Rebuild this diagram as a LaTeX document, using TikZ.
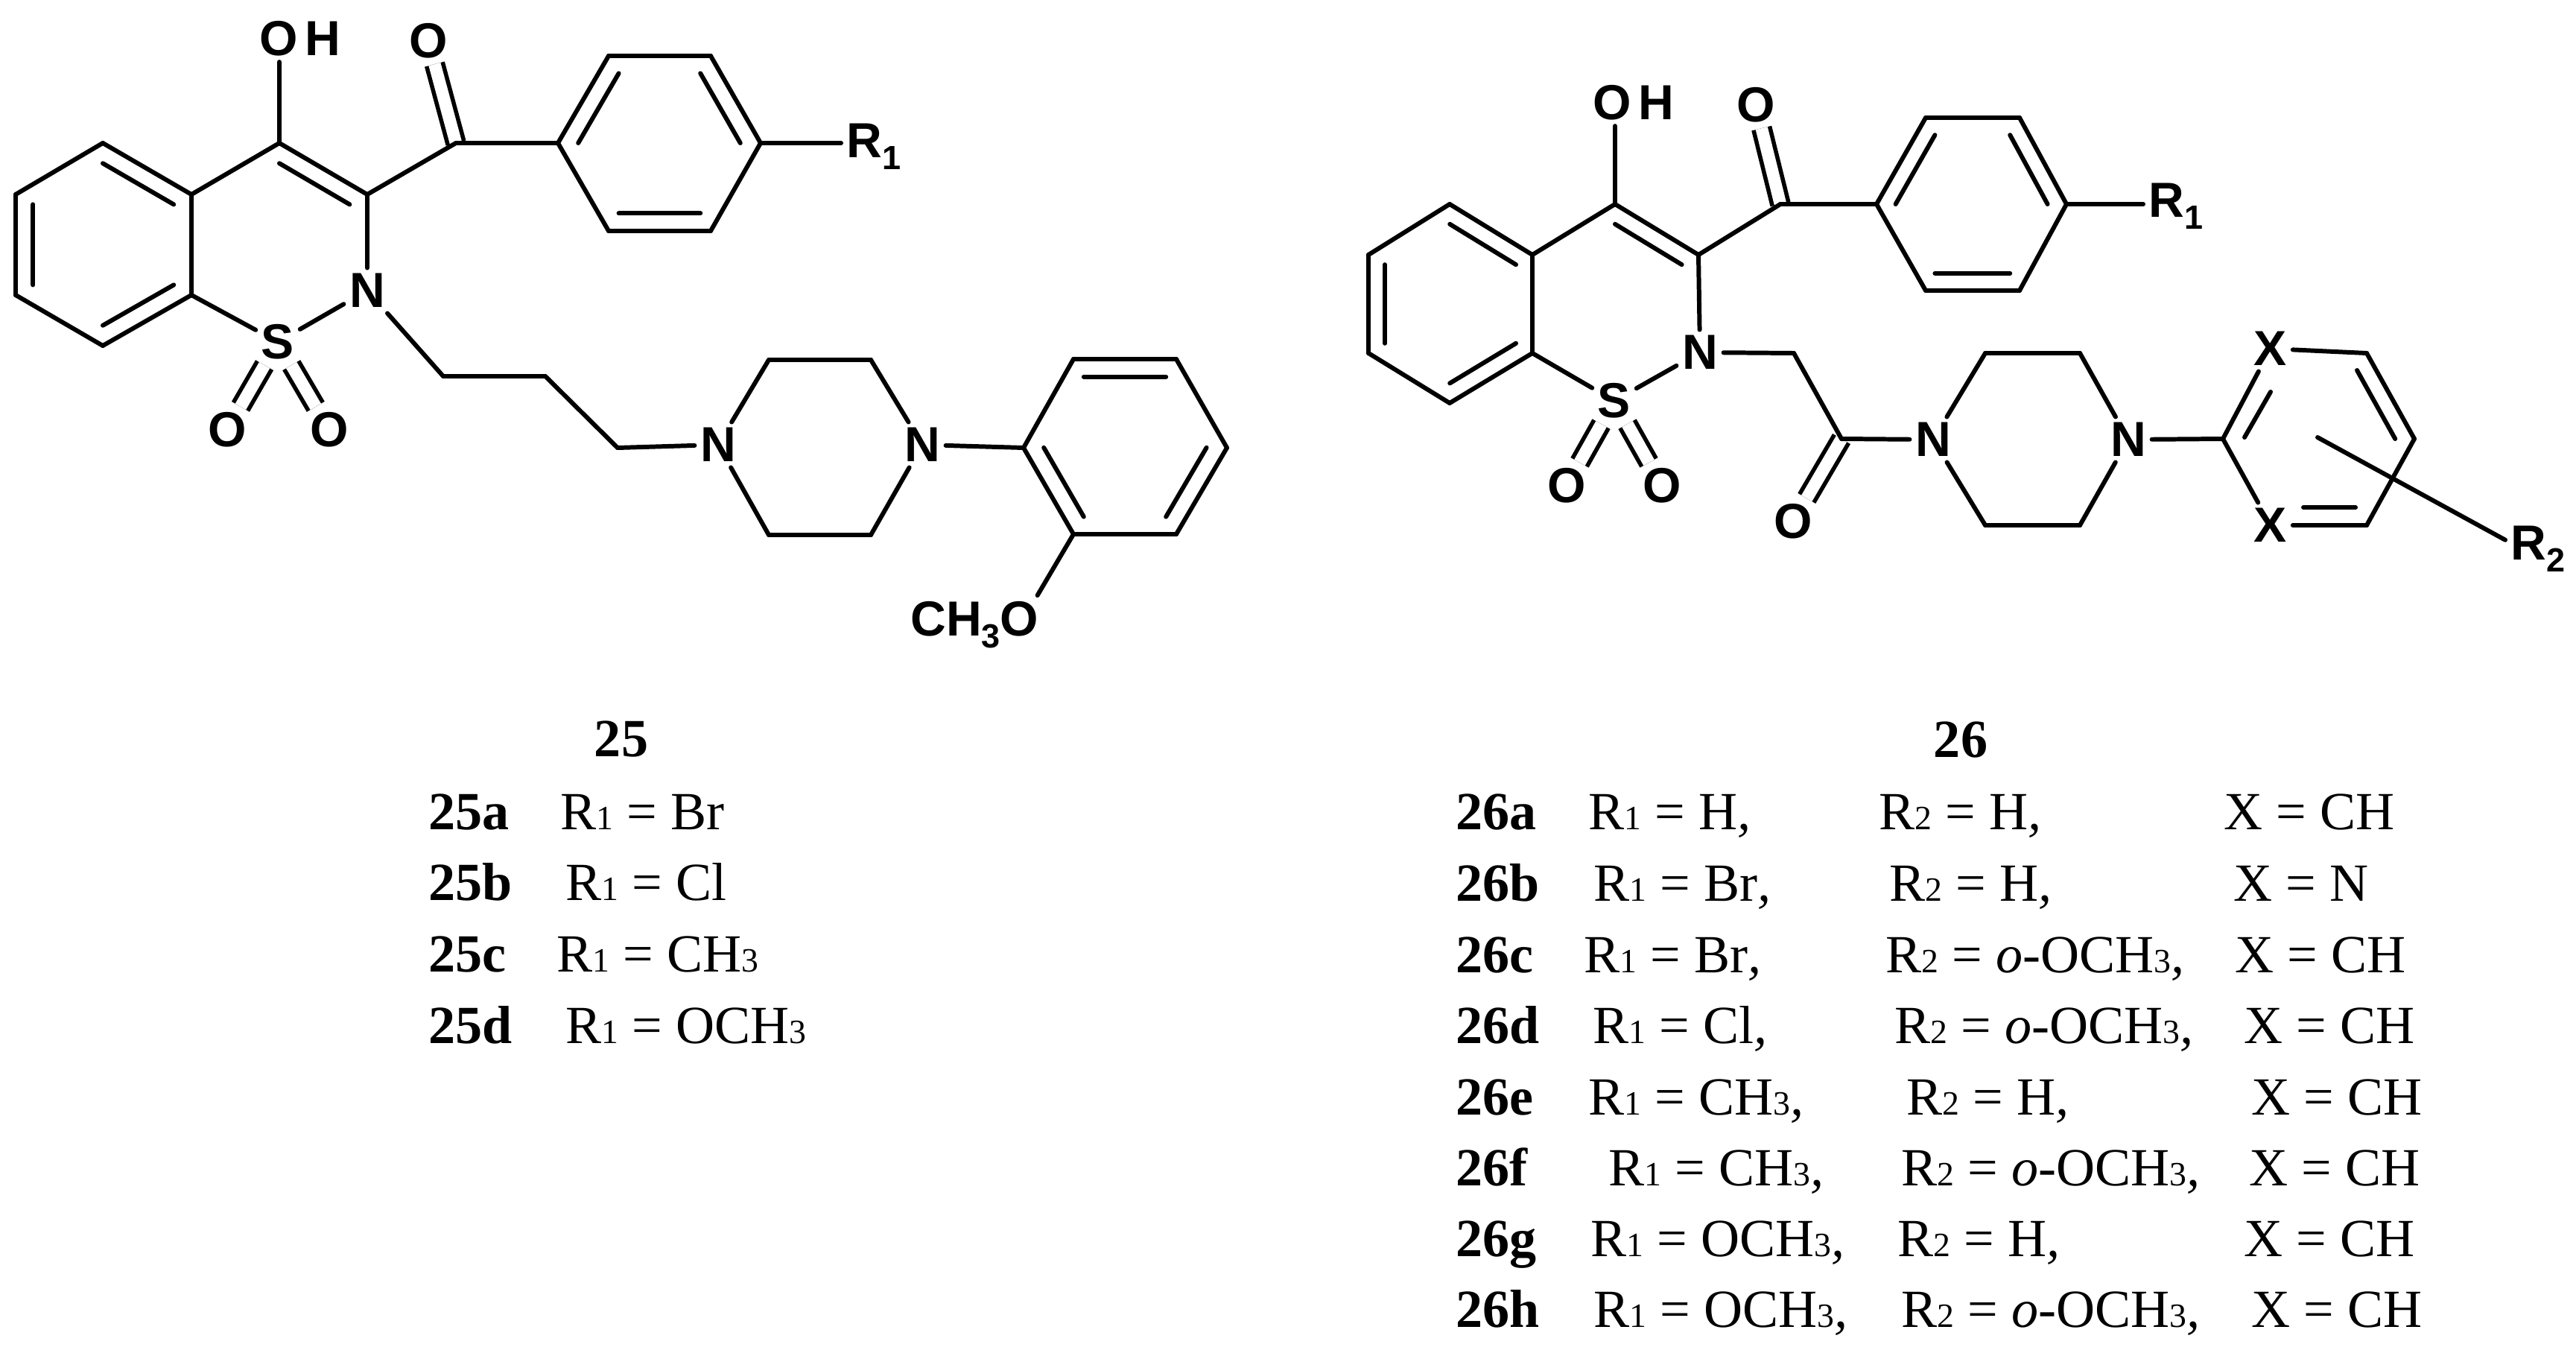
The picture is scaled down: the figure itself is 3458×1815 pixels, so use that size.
\documentclass[tikz,border=0pt]{standalone}
\usepackage{fontspec}
\setmainfont{Liberation Serif}
\newfontfamily\atomfont{Liberation Sans}
\usetikzlibrary{positioning, calc}
\newcommand{\bsub}[1]{\raisebox{-0.16cm}{\fontsize{12.8}{13}\selectfont #1}}
\newcommand{\tsub}[1]{{\fontsize{13}{14}\selectfont #1}}
\tikzset{
  bond/.style={line width=1.7pt, line cap=round},
  dbond/.style={line width=1.6pt, double, double distance=0.165cm},
  atom/.style={font=\atomfont\bfseries\fontsize{18.8}{20}\selectfont, inner sep=2pt},
  rlabel/.style={atom, anchor=base west},
  tlab/.style={anchor=base west, inner sep=0pt, font=\fontsize{20.5}{24}\selectfont},
  tname/.style={tlab, font=\fontsize{20.5}{24}\selectfont\bfseries},
  ttitle/.style={anchor=base, inner sep=0pt, font=\fontsize{20.5}{24}\selectfont\bfseries}
}
\begin{document}
\begin{tikzpicture}[x=0.01cm, y=-0.01cm]
  \useasboundingbox (0,0) rectangle (3458,1815);

  % compound 25, atoms
  \coordinate (a1) at (138,192);
  \coordinate (a2) at (257,261);
  \coordinate (a3) at (257,396);
  \coordinate (a4) at (138,464);
  \coordinate (a5) at (21,396);
  \coordinate (a6) at (21,261);
  \coordinate (ca) at (138,328);
  \coordinate (c4) at (375,192);
  \coordinate (c3) at (493,261);
  \coordinate (cb) at (375,328);
  \coordinate (co) at (612,192);
  \coordinate (p1) at (749,192);
  \coordinate (p2) at (817,75);
  \coordinate (p3) at (954,75);
  \coordinate (p4) at (1021,192);
  \coordinate (p5) at (954,310);
  \coordinate (p6) at (817,310);
  \coordinate (pc) at (885,192);
  \coordinate (ch1) at (595,505);
  \coordinate (ch2) at (732,505);
  \coordinate (ch3) at (829,601);
  \coordinate (z1) at (1032,483);
  \coordinate (z2) at (1169,483);
  \coordinate (z3) at (1169,718);
  \coordinate (z4) at (1032,718);
  \coordinate (r1) at (1374,601);
  \coordinate (r2) at (1441,482);
  \coordinate (r3) at (1579,482);
  \coordinate (r4) at (1647,601);
  \coordinate (r5) at (1579,717);
  \coordinate (r6) at (1441,717);
  \coordinate (rc) at (1510,600);
  \node (oh) [atom] at (403,52) {O\kern0.09cm H};
  \node (ok) [atom] at (575,55) {O};
  \node (n) [atom] at (493,390) {N};
  \node (s) [atom] at (373,459) {S};
  \node (os1) [atom] at (305,577) {O};
  \node (os2) [atom] at (442,577) {O};
  \node (nz1) [atom] at (964,597) {N};
  \node (nz2) [atom] at (1238,597) {N};
  \node (rr) [rlabel] at (1129,211) {R\bsub{1}};
  \node (ome) [atom, anchor=base east] at (1402,853) {CH\bsub{3}O};

  % compound 25, bonds
  \draw [dbond] (co) -- (ok);
  \draw [dbond] (s) -- (os1);
  \draw [dbond] (s) -- (os2);
  \path [bond]
  (a1) edge (a2) (a2) edge (a3) (a3) edge (a4)
  (a4) edge (a5) (a5) edge (a6) (a6) edge (a1)
  (a2) edge (c4) (c4) edge (c3) (c3) edge (n)
  (n) edge (s) (s) edge (a3)
  (c4) edge (c4 |- oh.south)
  (c3) edge (co) (co) edge (p1)
  (p1) edge (p2) (p2) edge (p3) (p3) edge (p4)
  (p4) edge (p5) (p5) edge (p6) (p6) edge (p1)
  (p4) edge (p4 -| rr.west)
  (n) edge (ch1) (ch1) edge (ch2) (ch2) edge (ch3) (ch3) edge (nz1)
  (nz1) edge (z1) (z1) edge (z2) (z2) edge (nz2)
  (nz2) edge (z3) (z3) edge (z4) (z4) edge (nz1)
  (nz2) edge (r1)
  (r1) edge (r2) (r2) edge (r3) (r3) edge (r4)
  (r4) edge (r5) (r5) edge (r6) (r6) edge (r1)
  (r6) edge ($(ome.north east)!0.05!(ome.north west)$);
  % inner ring lines
  \draw [bond] ($(a1)!0.2!(ca)$) -- ($(a2)!0.2!(ca)$);
  \draw [bond] ($(a3)!0.2!(ca)$) -- ($(a4)!0.2!(ca)$);
  \draw [bond] ($(a5)!0.2!(ca)$) -- ($(a6)!0.2!(ca)$);
  \draw [bond] ($(c4)!0.2!(cb)$) -- ($(c3)!0.2!(cb)$);
  \draw [bond] ($(p1)!0.2!(pc)$) -- ($(p2)!0.2!(pc)$);
  \draw [bond] ($(p3)!0.2!(pc)$) -- ($(p4)!0.2!(pc)$);
  \draw [bond] ($(p5)!0.2!(pc)$) -- ($(p6)!0.2!(pc)$);
  \draw [bond] ($(r1)!0.2!(rc)$) -- ($(r6)!0.2!(rc)$);
  \draw [bond] ($(r2)!0.2!(rc)$) -- ($(r3)!0.2!(rc)$);
  \draw [bond] ($(r4)!0.2!(rc)$) -- ($(r5)!0.2!(rc)$);

  % compound 26, atoms
  \coordinate (b1) at (1946,274);
  \coordinate (b2) at (2057,342);
  \coordinate (b3) at (2057,474);
  \coordinate (b4) at (1946,541);
  \coordinate (b5) at (1837,474);
  \coordinate (b6) at (1837,342);
  \coordinate (cc) at (1947,408);
  \coordinate (d4) at (2168,274);
  \coordinate (d3) at (2280,342);
  \coordinate (cd) at (2168,408);
  \coordinate (dco) at (2390,274);
  \coordinate (q1) at (2519,274);
  \coordinate (q2) at (2585,158);
  \coordinate (q3) at (2711,158);
  \coordinate (q4) at (2774,274);
  \coordinate (q5) at (2711,390);
  \coordinate (q6) at (2585,390);
  \coordinate (qc) at (2647,274);
  \coordinate (ach) at (2408,474);
  \coordinate (aco) at (2472,589);
  \coordinate (y1) at (2665,474);
  \coordinate (y2) at (2792,474);
  \coordinate (y3) at (2792,705);
  \coordinate (y4) at (2665,705);
  \coordinate (w1) at (2984,589);
  \coordinate (w3) at (3177,474);
  \coordinate (w4) at (3241,589);
  \coordinate (w5) at (3177,705);
  \coordinate (wc) at (3112,589);
  \coordinate (wa) at (3048,526);
  \coordinate (wb) at (3013,587);
  \coordinate (wd) at (3092,681);
  \coordinate (we) at (3162,681);
  \coordinate (rs) at (3111,587);
  \node (dh) [atom] at (2193,138) {O\kern0.09cm H};
  \node (dk) [atom] at (2357,141) {O};
  \node (dn) [atom] at (2282,473) {N};
  \node (ds) [atom] at (2167,538) {S};
  \node (ds1) [atom] at (2103,652) {O};
  \node (ds2) [atom] at (2231,652) {O};
  \node (da) [atom] at (2407,700) {O};
  \node (ny1) [atom] at (2595,590) {N};
  \node (ny2) [atom] at (2857,590) {N};
  \node (x1) [atom] at (3048,468) {X};
  \node (x2) [atom] at (3048,705) {X};
  \node (ds3) [rlabel] at (2877,291) {R\bsub{1}};
  \node (dr2) [rlabel] at (3363,751) {R\bsub{2}};

  % compound 26, bonds
  \draw [dbond] (dco) -- (dk);
  \draw [dbond] (ds) -- (ds1);
  \draw [dbond] (ds) -- (ds2);
  \draw [dbond] (aco) -- (da);
  \path [bond]
  (b1) edge (b2) (b2) edge (b3) (b3) edge (b4)
  (b4) edge (b5) (b5) edge (b6) (b6) edge (b1)
  (b2) edge (d4) (d4) edge (d3) (d3) edge (dn)
  (dn) edge (ds) (ds) edge (b3)
  (d4) edge (d4 |- dh.south)
  (d3) edge (dco) (dco) edge (q1)
  (q1) edge (q2) (q2) edge (q3) (q3) edge (q4)
  (q4) edge (q5) (q5) edge (q6) (q6) edge (q1)
  (q4) edge (q4 -| ds3.west)
  (dn) edge (ach) (ach) edge (aco) (aco) edge (ny1)
  (ny1) edge (y1) (y1) edge (y2) (y2) edge (ny2)
  (ny2) edge (y3) (y3) edge (y4) (y4) edge (ny1)
  (ny2) edge (w1)
  (w1) edge (x1) (x1) edge (w3) (w3) edge (w4)
  (w4) edge (w5) (w5) edge (x2) (x2) edge (w1)
  (rs) edge ($(dr2.north west)!0.7!(dr2.west)$);
  % inner ring lines
  \draw [bond] ($(b1)!0.2!(cc)$) -- ($(b2)!0.2!(cc)$);
  \draw [bond] ($(b3)!0.2!(cc)$) -- ($(b4)!0.2!(cc)$);
  \draw [bond] ($(b5)!0.2!(cc)$) -- ($(b6)!0.2!(cc)$);
  \draw [bond] ($(d4)!0.2!(cd)$) -- ($(d3)!0.2!(cd)$);
  \draw [bond] ($(q1)!0.2!(qc)$) -- ($(q2)!0.2!(qc)$);
  \draw [bond] ($(q3)!0.2!(qc)$) -- ($(q4)!0.2!(qc)$);
  \draw [bond] ($(q5)!0.2!(qc)$) -- ($(q6)!0.2!(qc)$);
  \draw [bond] ($(w3)!0.2!(wc)$) -- ($(w4)!0.2!(wc)$);
  \draw [bond] (wa) -- (wb);
  \draw [bond] (wd) -- (we);

  % table 25
  \node (t25) [ttitle] at (834,1015) {25};
  \node (t25a) [tname] at (575,1113) {25a};
  \node (t25b) [tname] at (575,1208) {25b};
  \node (t25c) [tname] at (575,1304) {25c};
  \node (t25d) [tname] at (575,1400) {25d};
  \node (v25a) [tlab] at (752,1113) {R\tsub{1} = Br};
  \node (v25b) [tlab] at (759,1208) {R\tsub{1} = Cl};
  \node (v25c) [tlab] at (747,1304) {R\tsub{1} = CH\tsub{3}};
  \node (v25d) [tlab] at (759,1400) {R\tsub{1} = OCH\tsub{3}};

  % table 26
  \node (t26) [ttitle] at (2632,1016) {26};
  \node (t26a) [tname] at (1954,1113) {26a};
  \node (t26b) [tname] at (1954,1209) {26b};
  \node (t26c) [tname] at (1954,1305) {26c};
  \node (t26d) [tname] at (1954,1400) {26d};
  \node (t26e) [tname] at (1954,1496) {26e};
  \node (t26f) [tname] at (1954,1591) {26f};
  \node (t26g) [tname] at (1954,1686) {26g};
  \node (t26h) [tname] at (1954,1781) {26h};
  \node (ra) [tlab] at (2132,1113) {R\tsub{1} = H\textit{,}};
  \node (rb) [tlab] at (2139,1209) {R\tsub{1} = Br\textit{,}};
  \node (rc2) [tlab] at (2126,1305) {R\tsub{1} = Br\textit{,}};
  \node (rd) [tlab] at (2138,1400) {R\tsub{1} = Cl\textit{,}};
  \node (re) [tlab] at (2132,1496) {R\tsub{1} = CH\tsub{3}\textit{,}};
  \node (rf) [tlab] at (2159,1591) {R\tsub{1} = CH\tsub{3}\textit{,}};
  \node (rg) [tlab] at (2135,1686) {R\tsub{1} = OCH\tsub{3}\textit{,}};
  \node (rh) [tlab] at (2139,1781) {R\tsub{1} = OCH\tsub{3}\textit{,}};
  \node (sa) [tlab] at (2522,1113) {R\tsub{2} = H\textit{,}};
  \node (sb) [tlab] at (2536,1209) {R\tsub{2} = H\textit{,}};
  \node (sc) [tlab] at (2531,1305) {R\tsub{2} = \textit{o}-OCH\tsub{3}\textit{,}};
  \node (sd) [tlab] at (2543,1400) {R\tsub{2} = \textit{o}-OCH\tsub{3}\textit{,}};
  \node (se) [tlab] at (2559,1496) {R\tsub{2} = H\textit{,}};
  \node (sf) [tlab] at (2552,1591) {R\tsub{2} = \textit{o}-OCH\tsub{3}\textit{,}};
  \node (sg) [tlab] at (2547,1686) {R\tsub{2} = H\textit{,}};
  \node (sh) [tlab] at (2552,1781) {R\tsub{2} = \textit{o}-OCH\tsub{3}\textit{,}};
  \node (xa) [tlab] at (2985,1113) {X = CH};
  \node (xb) [tlab] at (2998,1209) {X = N};
  \node (xc) [tlab] at (3000,1305) {X = CH};
  \node (xd) [tlab] at (3012,1400) {X = CH};
  \node (xe) [tlab] at (3022,1496) {X = CH};
  \node (xf) [tlab] at (3019,1591) {X = CH};
  \node (xg) [tlab] at (3012,1686) {X = CH};
  \node (xh) [tlab] at (3022,1781) {X = CH};
\end{tikzpicture}
\end{document}
